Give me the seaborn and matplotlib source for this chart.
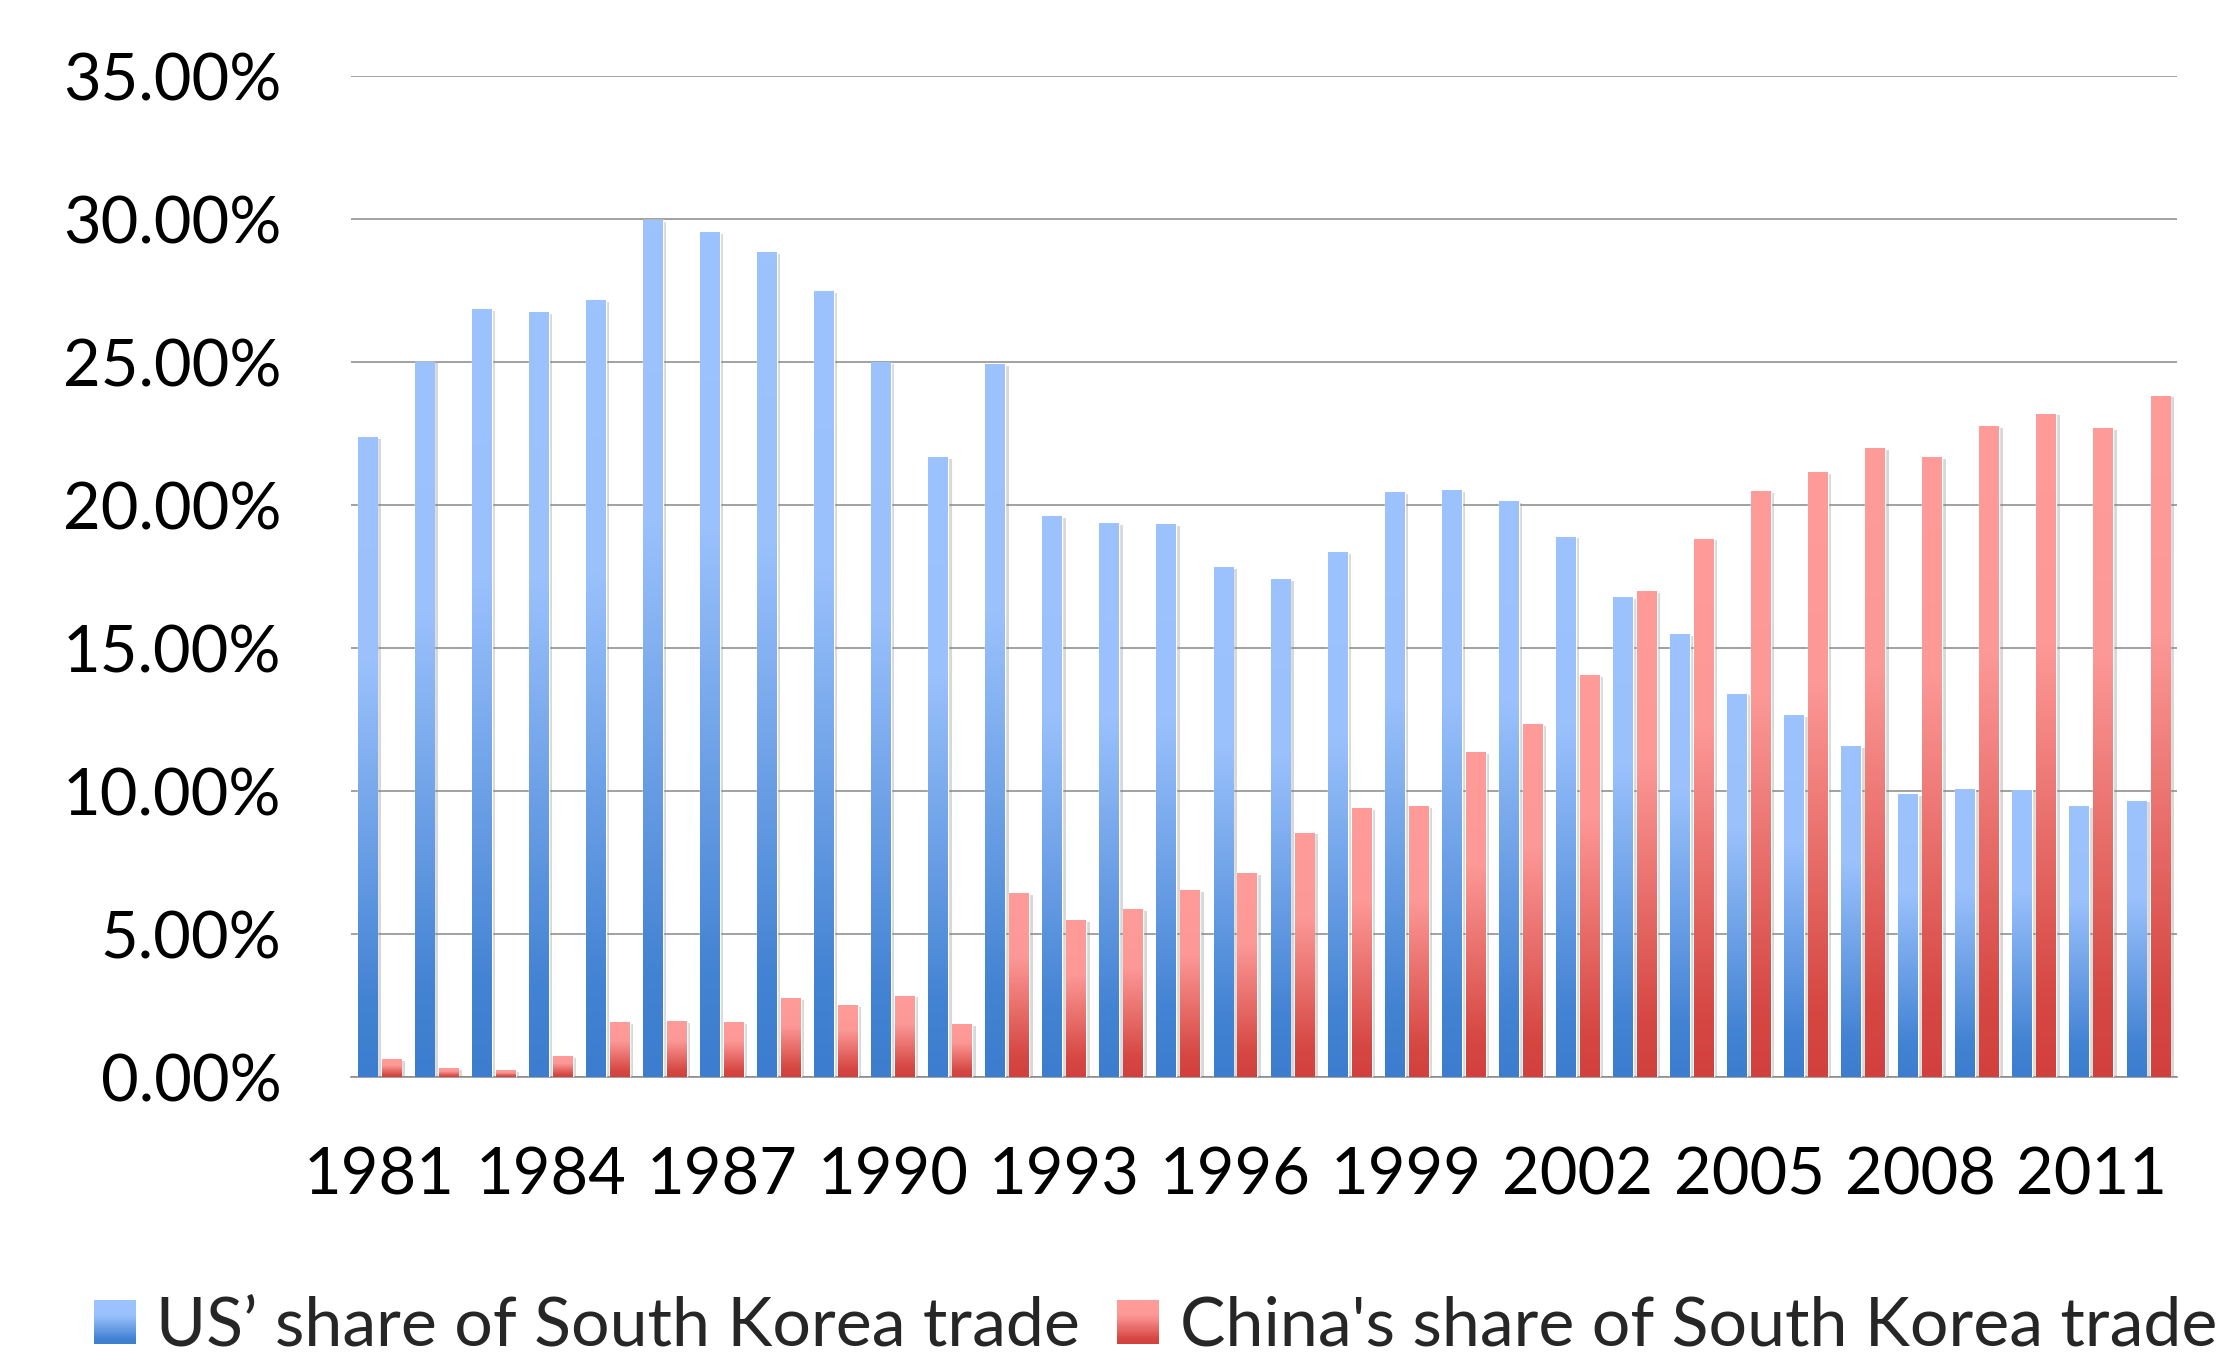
import matplotlib
matplotlib.use("Agg")
import matplotlib.pyplot as plt
import matplotlib.patheffects as pe
from matplotlib.colors import LinearSegmentedColormap
from matplotlib.legend_handler import HandlerBase
from matplotlib.patches import Rectangle
import numpy as np
import pandas as pd
import seaborn as sns

years = [1981, 1982, 1983, 1984, 1985, 1986, 1987, 1988, 1989, 1990,
         1991, 1992, 1993, 1994, 1995, 1996, 1997, 1998, 1999, 2000,
         2001, 2002, 2003, 2004, 2005, 2006, 2007, 2008, 2009, 2010,
         2011, 2012]

us_share = [22.35, 25.0, 26.83, 26.73, 27.15, 29.96, 29.52, 28.84, 27.47, 24.98,
            21.65, 24.9, 19.59, 19.34, 19.31, 17.8, 17.39, 18.33, 20.43, 20.5,
            20.11, 18.88, 16.76, 15.48, 13.39, 12.63, 11.54, 9.87, 10.07, 10.03,
            9.45, 9.65]

china_share = [0.6, 0.28, 0.24, 0.7, 1.89, 1.93, 1.89, 2.73, 2.51, 2.83,
               1.82, 6.4, 5.46, 5.87, 6.53, 7.13, 8.53, 9.4, 9.47, 11.33,
               12.31, 14.03, 16.96, 18.81, 20.48, 21.15, 21.96, 21.67, 22.73, 23.18,
               22.66, 23.81]

series_names = ["US\u2019 share of South Korea trade", "China's share of South Korea trade"]
y_ticks = [0, 5, 10, 15, 20, 25, 30, 35]

# bottom (dark) -> top (light) gradient like the Excel default fill
cmap_us = LinearSegmentedColormap.from_list(
    "us", [(0.0, "#3C7DCF"), (0.12, "#4383D3"), (0.65, "#9AC1FC"), (1.0, "#9DC3FF")])
cmap_cn = LinearSegmentedColormap.from_list(
    "cn", [(0.0, "#D2403D"), (0.12, "#D64843"), (0.65, "#FC9896"), (1.0, "#FF9C99")])
cmaps = [cmap_us, cmap_cn]

df = pd.DataFrame({
    "year": [str(y) for y in years] * 2,
    "share": us_share + china_share,
    "series": [series_names[0]] * len(years) + [series_names[1]] * len(years),
})

sns.set_style("white")
plt.rcParams["font.family"] = ["Lato", "DejaVu Sans"]

fig = plt.figure(figsize=(22.31, 13.58), dpi=100)
ax = fig.add_axes([0.1573, 0.2069, 0.8185, 0.7371])

sns.barplot(data=df, x="year", y="share", hue="series", hue_order=series_names,
            palette={series_names[0]: "#3C7DCF", series_names[1]: "#D2403D"},
            width=0.84, gap=0.17, legend=False, ax=ax, zorder=3)

grad = np.linspace(0, 1, 256).reshape(-1, 1)
for cont, cmap in zip(ax.containers, cmaps):
    for bar in cont:
        x0, w, h = bar.get_x(), bar.get_width(), bar.get_height()
        bar.set_path_effects([pe.SimplePatchShadow(offset=(2.5, -1.0), shadow_rgbFace="#7f7f7f", alpha=0.3),
                              pe.Normal()])
        ax.imshow(grad, extent=[x0, x0 + w, 0, h], origin="lower", cmap=cmap,
                  aspect="auto", interpolation="bilinear", zorder=4)

ax.set_xlim(-0.5, len(years) - 0.5)
ax.set_ylim(0, 35)
ax.set_yticks(y_ticks)
ax.set_yticklabels([f"{v:.2f}%" for v in y_ticks])
ax.set_xticks(range(0, len(years), 3))
ax.set_xticklabels([str(y) for y in years[::3]])
ax.set_xlabel("")
ax.set_ylabel("")

ax.yaxis.grid(True, color="#878787", linewidth=1.1)
ax.set_axisbelow(True)
for side in ["top", "right", "left"]:
    ax.spines[side].set_visible(False)
ax.spines["bottom"].set_color("#878787")
ax.spines["bottom"].set_linewidth(1.1)
ax.tick_params(axis="both", length=0, labelsize=46.8, colors="black")
ax.tick_params(axis="y", pad=50)
ax.tick_params(axis="x", pad=50)


class GradientHandler(HandlerBase):
    def __init__(self, cmap):
        super().__init__()
        self.cmap = cmap

    def create_artists(self, legend, orig_handle, xdescent, ydescent, width, height, fontsize, trans):
        n = 40
        arts = []
        for k in range(n):
            r = Rectangle((-xdescent, -ydescent + k * height / n), width, height / n * 1.05,
                          facecolor=self.cmap((k + 0.5) / n), edgecolor="none", transform=trans)
            arts.append(r)
        return arts


handles = [Rectangle((0, 0), 1, 1), Rectangle((0, 0), 1, 1)]
fig.legend(handles, series_names,
           handler_map={handles[0]: GradientHandler(cmap_us), handles[1]: GradientHandler(cmap_cn)},
           loc="center left", bbox_to_anchor=(0.042, 0.023), ncol=2, frameon=False,
           fontsize=49, handlelength=0.62, handleheight=0.62, handletextpad=0.3,
           columnspacing=0.54, borderaxespad=0, borderpad=0)

fig.savefig("out.png", dpi=100)
